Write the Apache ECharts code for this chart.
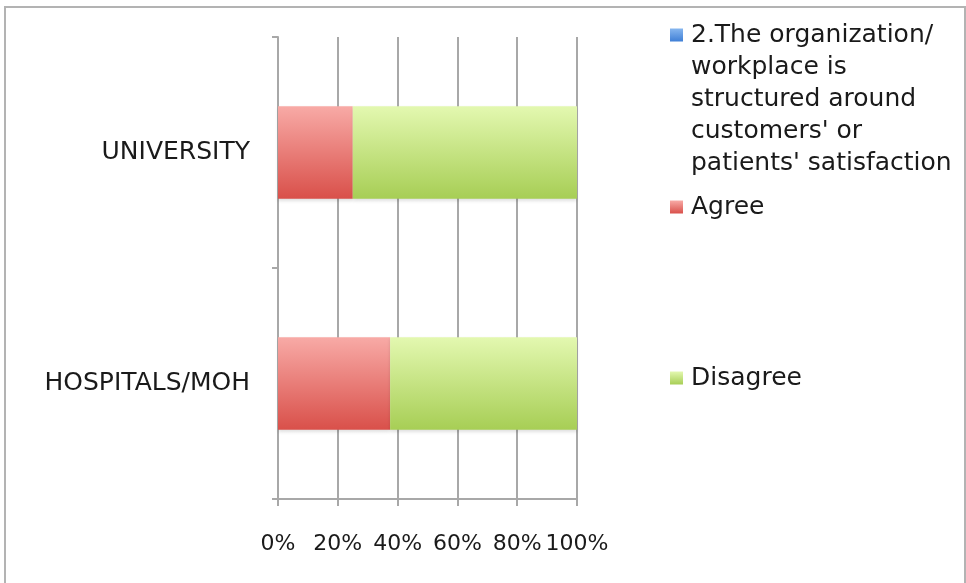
<!DOCTYPE html>
<html>
<head>
<meta charset="utf-8">
<script src="https://cdn.jsdelivr.net/npm/echarts@6/dist/echarts.min.js"></script>
<style>
  html, body { margin: 0; padding: 0; background: #fff; }
  #chart { width: 966px; height: 583px; }
</style>
</head>
<body>
<div id="chart"></div>
<script>
// data
var categories = ['HOSPITALS/MOH', 'UNIVERSITY'];
var seriesNames = [
    "2.The organization/workplace is structured around customers' or patients' satisfaction",
    'Agree',
    'Disagree'
];
var statementValues = [0, 0];
var agreeValues = [37.5, 25];
var disagreeValues = [62.5, 75];
var xTicks = [0, 20, 40, 60, 80, 100];

// the long legend entry is wrapped like the original
var firstLegendLine = '2.The organization/';
var restLegendLines = "workplace is\nstructured around\ncustomers' or\npatients' satisfaction";

var font = 'DejaVu Sans';
var gridColor = '#a8a8a8';

function grad(top, bottom) {
    return new echarts.graphic.LinearGradient(0, 0, 0, 1, [
        { offset: 0, color: top },
        { offset: 1, color: bottom }
    ]);
}

var colors = [
    grad('#86b6ef', '#3f7fd6'),
    grad('#f8aaa6', '#d9504a'),
    grad('#e3f8b0', '#a7ce55')
];

function legendAt(name, centerY) {
    return {
        show: true,
        data: [name],
        orient: 'vertical',
        left: 670,
        top: centerY - 16,
        padding: 0,
        itemWidth: 13,
        itemHeight: 13,
        icon: 'rect',
        selectedMode: false,
        formatter: function (n) {
            return n === seriesNames[0] ? firstLegendLine : n;
        },
        textStyle: {
            fontFamily: font,
            fontSize: 25,
            lineHeight: 32,
            color: '#1a1a1a',
            padding: [0, 0, 0, 3]
        }
    };
}

var chart = echarts.init(document.getElementById('chart'));

var option = {
    animation: false,
    backgroundColor: '#fff',
    color: colors,
    textStyle: { fontFamily: font },
    graphic: [{
        type: 'rect',
        shape: { x: 5, y: 7, width: 960, height: 590 },
        style: { fill: 'none', stroke: '#b3b3b3', lineWidth: 2 },
        silent: true,
        z: -1
    }],
    title: {
        text: restLegendLines,
        left: 691,
        top: 51,
        padding: 0,
        textStyle: {
            fontFamily: font,
            fontSize: 25,
            lineHeight: 32,
            fontWeight: 'normal',
            color: '#1a1a1a'
        }
    },
    legend: [
        legendAt(seriesNames[0], 35),
        legendAt(seriesNames[1], 207),
        legendAt(seriesNames[2], 378)
    ],
    grid: {
        left: 278,
        right: 389,
        top: 37,
        bottom: 84,
        containLabel: false
    },
    xAxis: {
        type: 'value',
        min: xTicks[0],
        max: xTicks[xTicks.length - 1],
        interval: 20,
        axisLine: { show: true, lineStyle: { color: gridColor, width: 2 } },
        axisTick: { show: true, length: 7, lineStyle: { color: gridColor, width: 2 } },
        splitLine: { show: true, lineStyle: { color: gridColor, width: 2 } },
        axisLabel: {
            formatter: '{value}%',
            fontFamily: font,
            fontSize: 22,
            color: '#1a1a1a',
            margin: 34
        }
    },
    yAxis: {
        type: 'category',
        data: categories,
        axisLine: { show: true, lineStyle: { color: gridColor, width: 2 } },
        axisTick: { show: true, length: 6, lineStyle: { color: gridColor, width: 2 } },
        axisLabel: {
            fontFamily: font,
            fontSize: 25,
            color: '#1a1a1a',
            margin: 28
        }
    },
    series: [
        {
            name: seriesNames[0],
            type: 'bar',
            stack: 'total',
            barWidth: '40%',
            data: statementValues
        },
        {
            name: seriesNames[1],
            type: 'bar',
            stack: 'total',
            barWidth: '40%',
            itemStyle: { shadowColor: 'rgba(0,0,0,0.12)', shadowBlur: 3, shadowOffsetY: 2 },
            data: agreeValues
        },
        {
            name: seriesNames[2],
            type: 'bar',
            stack: 'total',
            barWidth: '40%',
            itemStyle: { shadowColor: 'rgba(0,0,0,0.12)', shadowBlur: 3, shadowOffsetY: 2 },
            data: disagreeValues
        }
    ]
};

chart.setOption(option);
</script>
</body>
</html>
